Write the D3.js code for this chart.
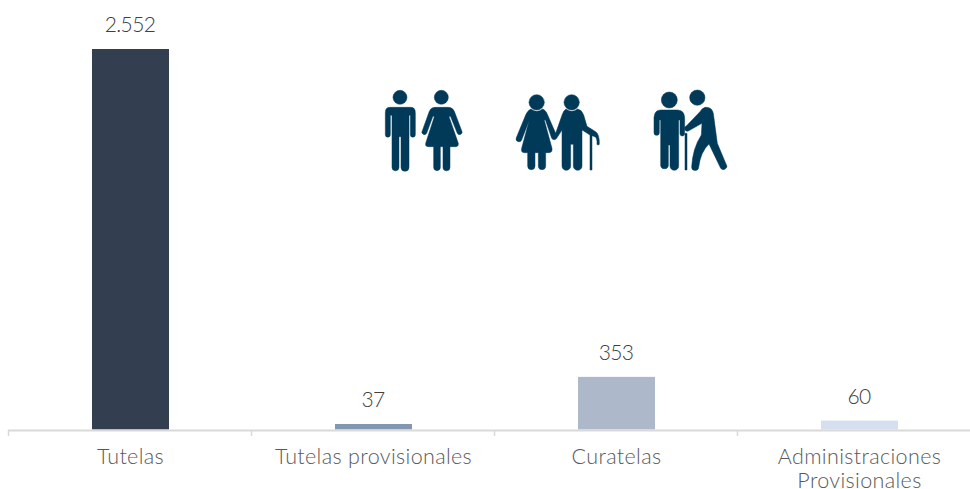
<!DOCTYPE html>
<html>
<head>
<meta charset="utf-8">
<script src="https://cdn.jsdelivr.net/npm/d3@7"></script>
<style>
  html, body { margin: 0; padding: 0; background: #fff; overflow: hidden; }
  text { font-family: Lato, "Open Sans", sans-serif; font-weight: 300; }
  .bar-label { font-size: 21px; fill: #404040; letter-spacing: -0.6px; }
  .cat-label { font-size: 21.5px; fill: #595959; letter-spacing: 0.35px; }
</style>
</head>
<body>
<div id="chart"></div>
<script>
var categories = ["Tutelas", "Tutelas provisionales", "Curatelas", "Administraciones|Provisionales"];
var values = [2552, 37, 353, 60];
var value_labels = ["2.552", "37", "353", "60"];
var bar_colors = ["#333f50", "#8497b0", "#adb9ca", "#d6dff0"];

var width = 970, height = 489;
var baseline = 429.5;
var icon_color = "#013a58";

var svg = d3.select("#chart").append("svg")
  .attr("width", width)
  .attr("height", height);

// last band runs off the right edge, same as the source
var x = d3.scaleBand().domain(categories).range([9, 981]);
var y = d3.scaleLinear().domain([0, 2552]).range([baseline, 49]);
var bar_width = 77;

svg.selectAll("rect.bar")
  .data(categories)
  .enter().append("rect")
  .attr("class", "bar")
  .attr("x", d => x(d) + (x.bandwidth() - bar_width) / 2)
  .attr("y", (d, i) => y(values[i]))
  .attr("width", bar_width)
  .attr("height", (d, i) => baseline - y(values[i]))
  .attr("fill", (d, i) => bar_colors[i]);

svg.selectAll("text.bar-label")
  .data(categories)
  .enter().append("text")
  .attr("class", "bar-label")
  .attr("x", d => x(d) + x.bandwidth() / 2 - 0.5)
  .attr("y", (d, i) => y(values[i]) - 17)
  .attr("text-anchor", "middle")
  .text((d, i) => value_labels[i]);

// axis line and the ticks between categories
svg.append("line")
  .attr("x1", 8).attr("x2", width)
  .attr("y1", 430.5).attr("y2", 430.5)
  .attr("stroke", "#d9d9d9").attr("stroke-width", 2);

svg.selectAll("line.tick")
  .data(categories)
  .enter().append("line")
  .attr("class", "tick")
  .attr("x1", d => x(d) - 0.5).attr("x2", d => x(d) - 0.5)
  .attr("y1", 430).attr("y2", 436)
  .attr("stroke", "#d9d9d9").attr("stroke-width", 1.5);

svg.selectAll("text.cat-label")
  .data(categories)
  .enter().append("text")
  .attr("class", "cat-label")
  .attr("text-anchor", "middle")
  .each(function(d) {
    let el = d3.select(this);
    d.split("|").forEach(function(line, i) {
      el.append("tspan")
        .attr("x", x(d) + x.bandwidth() / 2)
        .attr("y", 463.5 + i * 24)
        .text(line);
    });
  });

// pictograms, traced at 3x and scaled back down
var icons = [
  {
    origin: [370, 80],
    circles: [[90, 52, 21], [214, 52, 21]],
    paths: [
      "M60 82 H122 Q136 82 136 98 V164 A7.5 7.5 0 0 1 121 164 V106 H117 V262 A11 11 0 0 1 93 262 V170 H87 V262 A10.5 10.5 0 0 1 66 262 V106 H61 V164 A7.5 7.5 0 0 1 46 164 V98 Q46 82 60 82 Z",
      "M195 82 H235 Q248 82 253 94 L275 152 A7 7 0 0 1 262 160 L241 108 L237 110 L265 190 Q266 200 258 200 H240 V262 A10 10 0 0 1 219 262 V200 H211 V262 A10 10 0 0 1 191 262 V200 H174 Q165 200 167 190 L193 110 L189 108 L170 160 A7 7 0 0 1 157 152 L178 94 Q183 82 195 82 Z"
    ]
  },
  {
    origin: [505, 85],
    circles: [[95, 52, 23], [200, 52, 23]],
    paths: [
      "M78 72 Q95 86 113 72 Q123 76 128 90 L152 145 L172 88 Q176 76 183 72 Q200 86 218 72 Q230 74 236 90 L246 124 L272 140 Q284 148 283 178 A4 4 0 0 1 276 178 Q277 160 270 155 L261 152 V255 H255 V150 L236 138 L231 135 V243 A13 13 0 0 1 205 243 V178 H197 V243 A13 13 0 0 1 171 243 V135 L155 160 A9 9 0 0 1 140 160 L121 104 L118 106 L141 190 Q143 203 132 203 H122 V243 A11 11 0 0 1 100 243 V203 H90 V243 A11 11 0 0 1 68 243 V203 H58 Q47 203 50 190 L72 108 L50 165 A8 8 0 0 1 34 158 L62 90 Q68 76 78 72 Z"
    ]
  },
  {
    origin: [640, 80],
    circles: [[88, 60, 24], [172, 53, 23]],
    paths: [
      "M62 90 H112 Q132 90 134 112 V160 A7 7 0 0 1 120 162 V120 H116 V258 A13 13 0 0 1 90 258 V195 H85 V258 A12 12 0 0 1 62 258 V120 H58 V158 A8 8 0 0 1 42 158 V112 Q44 90 62 90 Z",
      "M195 82 Q216 80 220 100 L232 190 L258 252 A9 9 0 0 1 242 265 L207 192 Q182 215 176 262 A10 10 0 0 1 155 260 Q158 205 184 165 L186 130 L145 153 A7 7 0 0 1 139 138 L180 95 Q186 85 195 82 Z",
      "M135 160 H141 V270 H135 Z"
    ]
  }
];

icons.forEach(function(icon) {
  let g = svg.append("g")
    .attr("transform", "translate(" + icon.origin[0] + "," + icon.origin[1] + ") scale(0.3333)")
    .attr("fill", icon_color)
    .attr("stroke", icon_color)
    .attr("stroke-width", 1.5)
    .attr("stroke-linejoin", "round");
  icon.circles.forEach(function(c) {
    g.append("circle").attr("cx", c[0]).attr("cy", c[1]).attr("r", c[2]);
  });
  icon.paths.forEach(function(p) {
    g.append("path").attr("d", p);
  });
});
</script>
</body>
</html>
